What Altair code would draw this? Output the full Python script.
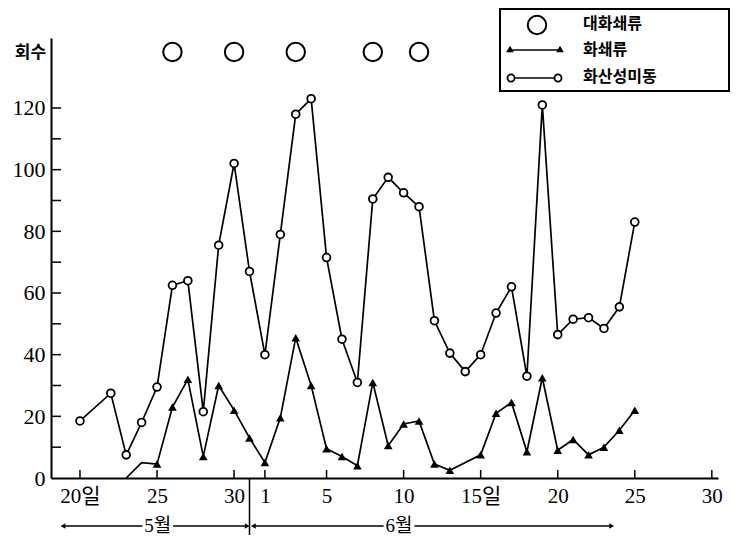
import altair as alt
import pandas as pd

# x = day index counted from 5월 20일 (=0); 5월 31일 = 11, 6월 1일 = 12, 6월 30일 = 41
tick_days = [0, 5, 10, 12, 16, 21, 26, 31, 36, 41]
tick_labels = ["\u00a0\u00a0\u00a0\u00a020일", "25", "30", "1", "5", "10",
               "\u00a0\u00a015일", "20", "25", "30"]
y_labels = [0, 20, 40, 60, 80, 100, 120]
y_minor = [10, 20, 30, 40, 50, 60, 70, 80, 90, 100, 110, 120]

# 화산성미동 (volcanic micro-tremors)
micro_days = [0, 2, 3, 4, 5, 6, 7, 8, 9, 10, 11, 12, 13, 14, 15, 16, 17, 18,
              19, 20, 21, 22, 23, 24, 25, 26, 27, 28, 29, 30, 31, 32, 33, 34, 35, 36]
micro_vals = [18.5, 27.5, 7.5, 18, 29.5, 62.5, 64, 21.5, 75.5, 102, 67, 40, 79,
              118, 123, 71.5, 45, 31, 90.5, 97.5, 92.5, 88, 51, 40.5, 34.5, 40,
              53.5, 62, 33, 121, 46.5, 51.5, 52, 48.5, 55.5, 83]

# 화쇄류 (pyroclastic flows)
pyro_days = [3, 4, 5, 6, 7, 8, 9, 10, 11, 12, 13, 14, 15, 16, 17, 18, 19, 20,
             21, 22, 23, 24, 26, 27, 28, 29, 30, 31, 32, 33, 34, 35, 36]
pyro_vals = [0, 5, 4.5, 23, 32, 7, 30, 22, 13, 5, 19.5, 45.5, 30, 9.5, 7, 4,
             31, 10.5, 17.5, 18.5, 4.5, 2.5, 7.5, 21, 24.5, 8.5, 32.5, 9, 12.5,
             7.5, 10, 15.5, 22]
pyro_marked = [False, False] + [True] * 31

# 대화쇄류 (large pyroclastic flows)
big_days = [6, 10, 14, 19, 22]

month_names = ["5월", "6월"]
month_start = [-1.1, 11.25]
month_end = [10.85, 34.5]
month_label_day = [5.05, 20.7]
month_boundary = [11]

legend_labels = ["대화쇄류", "화쇄류", "화산성미동"]

NUM_FONT = "Liberation Serif, Noto Sans CJK KR"
KR_FONT = "Noto Sans CJK KR"

df_micro = pd.DataFrame({"day": micro_days, "value": micro_vals})
df_pyro = pd.DataFrame({"day": pyro_days, "value": pyro_vals, "marked": pyro_marked})
df_big = pd.DataFrame({"day": big_days})
df_xt = pd.DataFrame({"day": tick_days})
df_yt = pd.DataFrame({"value": y_minor})
df_bound = pd.DataFrame({"day": month_boundary})
df_marrow = pd.DataFrame({"day": month_start, "day_end": month_end})
df_mleft = pd.DataFrame({"day": month_start})
df_mright = pd.DataFrame({"day": month_end})
df_mlabel = pd.DataFrame({"day": month_label_day, "name": month_names})
one = pd.DataFrame({"k": [0]})

lab_arr = "[" + ",".join("'" + l + "'" for l in tick_labels) + "]"
val_arr = "[" + ",".join(str(v) for v in tick_days) + "]"

xscale = alt.Scale(domain=[-1.88, 41.4], nice=False, zero=False)
yscale = alt.Scale(domain=[0, 142.7], nice=False, zero=False)

X = alt.X("day:Q", scale=xscale, axis=alt.Axis(
    values=tick_days, labelExpr=f"{lab_arr}[indexof({val_arr}, datum.value)]",
    ticks=False, tickSize=0, grid=False, domainColor="black", domainWidth=2,
    labelFont=NUM_FONT, labelFontSize=21, labelColor="black", labelPadding=7,
    labelFlush=False, labelOverlap=False, labelAngle=0, title=None))
Y = alt.Y("value:Q", scale=yscale, axis=alt.Axis(
    values=y_labels, ticks=False, tickSize=0, grid=False, domainColor="black",
    domainWidth=2, labelFont=NUM_FONT, labelFontSize=22, labelColor="black",
    labelPadding=6, labelFlush=False, labelOverlap=False,
    title="회수", titleAngle=0, titleX=-21, titleY=14, titleAlign="center",
    titleBaseline="middle", titleFont=KR_FONT, titleFontSize=17,
    titleFontWeight="bold", titleColor="black"))

micro_line = alt.Chart(df_micro).mark_line(color="black", strokeWidth=1.7).encode(x=X, y=Y)
pyro_line = alt.Chart(df_pyro).mark_line(color="black", strokeWidth=1.7).encode(x=X, y=Y)
micro_pts = alt.Chart(df_micro).mark_point(
    shape="circle", filled=True, fill="white", stroke="black", strokeWidth=1.8,
    size=60, opacity=1).encode(x=X, y=Y)
pyro_pts = alt.Chart(df_pyro).transform_filter("datum.marked").mark_point(
    shape="triangle-up", filled=True, color="black", size=75, opacity=1
).encode(x=X, y=Y)
big_pts = alt.Chart(df_big).mark_point(
    shape="circle", filled=False, stroke="black", strokeWidth=2, size=340, opacity=1
).encode(x=X, y=alt.value(14))

x_ticks = alt.Chart(df_xt).mark_rule(color="black", strokeWidth=1.5).encode(
    x=X, y=alt.value(440), y2=alt.value(432))
y_ticks = alt.Chart(df_yt).mark_rule(color="black", strokeWidth=1.5).encode(
    y=Y, x=alt.value(0), x2=alt.value(10))
boundary = alt.Chart(df_bound).mark_rule(color="black", strokeWidth=1.5).encode(
    x=X, y=alt.value(440), y2=alt.value(500))

m_line = alt.Chart(df_marrow).mark_rule(color="black", strokeWidth=1.5).encode(
    x=X, x2="day_end:Q", y=alt.value(488))
m_left = alt.Chart(df_mleft).mark_point(
    shape="triangle-left", filled=True, color="black", size=30, opacity=1).encode(
    x=X, y=alt.value(488))
m_right = alt.Chart(df_mright).mark_point(
    shape="triangle-right", filled=True, color="black", size=30, opacity=1).encode(
    x=X, y=alt.value(488))
m_bg = alt.Chart(df_mlabel).mark_point(
    shape="square", filled=True, color="white", size=950, opacity=1, strokeWidth=0).encode(
    x=X, y=alt.value(488))
m_text = alt.Chart(df_mlabel).mark_text(
    font=NUM_FONT, fontSize=19, color="black", baseline="middle", align="center").encode(
    x=X, y=alt.value(488), text="name:N")

# legend box
lg_box = alt.Chart(one).mark_rect(fill="white", stroke="black", strokeWidth=2).encode(
    x=alt.value(449), x2=alt.value(678), y=alt.value(-29), y2=alt.value(53))
lg_big = alt.Chart(one).mark_point(
    shape="circle", filled=False, stroke="black", strokeWidth=2, size=340, opacity=1).encode(
    x=alt.value(486), y=alt.value(-13))
lg_l2 = alt.Chart(one).mark_rule(color="black", strokeWidth=1.7).encode(
    x=alt.value(459), x2=alt.value(509), y=alt.value(12))
lg_t1 = alt.Chart(one).mark_point(shape="triangle-up", filled=True, color="black",
                                  size=60, opacity=1).encode(x=alt.value(459), y=alt.value(11))
lg_t2 = alt.Chart(one).mark_point(shape="triangle-up", filled=True, color="black",
                                  size=60, opacity=1).encode(x=alt.value(509), y=alt.value(11))
lg_l3 = alt.Chart(one).mark_rule(color="black", strokeWidth=1.7).encode(
    x=alt.value(460), x2=alt.value(507), y=alt.value(40))
lg_c1 = alt.Chart(one).mark_point(shape="circle", filled=True, fill="white", stroke="black",
                                  strokeWidth=1.8, size=50, opacity=1).encode(
    x=alt.value(460), y=alt.value(40))
lg_c2 = alt.Chart(one).mark_point(shape="circle", filled=True, fill="white", stroke="black",
                                  strokeWidth=1.8, size=50, opacity=1).encode(
    x=alt.value(507), y=alt.value(40))
lg_texts = []
for lab, yy in zip(legend_labels, [-14, 12, 39]):
    lg_texts.append(alt.Chart(one).mark_text(
        font=KR_FONT, fontWeight="bold", fontSize=16, color="black",
        align="left", baseline="middle").encode(
        x=alt.value(532), y=alt.value(yy), text=alt.value(lab)))

chart = alt.layer(
    micro_line, pyro_line, x_ticks, y_ticks, boundary, micro_pts, pyro_pts, big_pts,
    m_line, m_left, m_right, m_bg, m_text,
    lg_box, lg_big, lg_l2, lg_t1, lg_t2, lg_l3, lg_c1, lg_c2, *lg_texts
).properties(
    width=667, height=440,
    padding={"left": 43, "top": 30, "right": 13, "bottom": 57},
    autosize=alt.AutoSizeParams(type="none"),
    background="white",
).configure_view(stroke=None)

chart.save("out.html", embed_options={"renderer": "svg", "actions": False})
